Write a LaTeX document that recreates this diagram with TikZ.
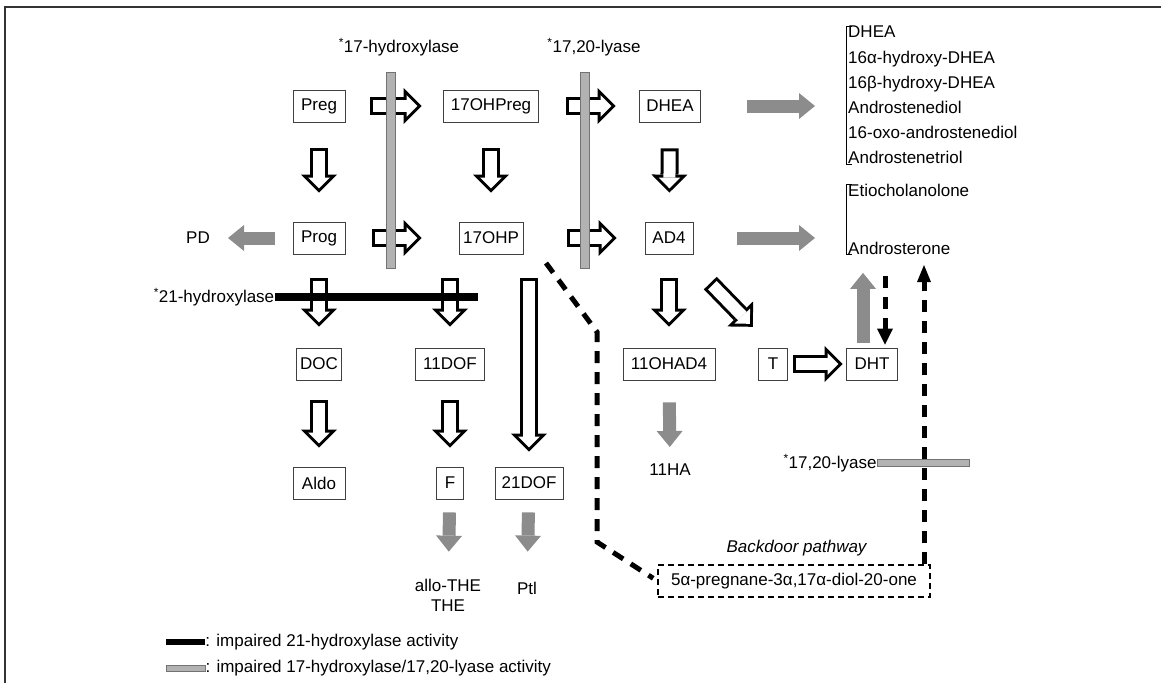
\documentclass[tikz,border=0pt]{standalone}
\usepackage{fontspec}
\setmainfont{Liberation Sans}
\usetikzlibrary{arrows.meta,positioning,calc}

\begin{document}
\begin{tikzpicture}[x=1pt,y=-1pt,
  font=\fontsize{17}{20}\selectfont,
  box/.style={draw=black!75, line width=0.8pt, minimum height=32pt, inner xsep=4pt, inner ysep=0pt},
  lbl/.style={inner sep=0pt},
  vbar/.style={draw=black!55, fill=black!30, line width=0.6pt, minimum width=9pt, inner sep=0pt},
  hbar/.style={draw=black!55, fill=black!30, line width=0.6pt, minimum height=7pt, inner sep=0pt},
  blackbar/.style={fill=black, minimum height=8pt, inner sep=0pt},
  hollowarrow/.style 2 args={line width=18pt, shorten <=#1, shorten >=#2,
    -{Triangle[length=18pt,width=36pt,line width'=0pt]},
    postaction={draw=white, line width=12pt, shorten <=#1+3pt, shorten >=#2+4.2pt,
      -{Triangle[length=10.8pt,width=21.6pt,line width'=0pt]}}},
  greyarrow/.style 2 args={draw=black!45, line width=13pt, shorten <=#1, shorten >=#2,
    -{Triangle[length=16pt,width=26pt,line width'=0pt]}},
  dashline/.style={line width=5pt, dash pattern=on 12pt off 9pt},
  bdbox/.style={draw, line width=1.2pt, dash pattern=on 6pt off 4pt, minimum height=32pt}]
\useasboundingbox (0,0) rectangle (1161,683);
\draw[black!80, line width=2.5pt] (5,683) -- (5,7) -- (1161,7);

\node[box, minimum width=52pt] (preg) at (319,106) {Preg};
\node[box, minimum width=95pt] (ohpreg) at (491,106) {17OHPreg};
\node[box, minimum width=61pt] (dhea) at (670,106) {DHEA};
\node[box, minimum width=52pt] (prog) at (319,238) {Prog};
\node[box, minimum width=64pt] (ohp) at (491,238) {17OHP};
\node[box, minimum width=48pt] (ad4) at (669,238) {AD4};
\node[box, minimum width=43pt] (doc) at (319,364) {DOC};
\node[box, minimum width=69pt] (dof11) at (450,364) {11DOF};
\node[box, minimum width=92pt] (ohad4) at (669,364) {11OHAD4};
\node[box, minimum width=29pt] (t) at (773,364) {T};
\node[box, minimum width=51pt] (dht) at (872,364) {DHT};
\node[box, minimum width=52pt] (aldo) at (319,483) {Aldo};
\node[box, minimum width=27pt] (f) at (450,483) {F};
\node[box, minimum width=68pt] (dof21) at (529,483) {21DOF};

\node[lbl] (pd) at (198,238) {PD};
\node[lbl] (ha11) at (670,470) {11HA};
\node[lbl, align=center] (the) at (448,595) {allo-THE\\THE};
\node[lbl] (ptl) at (527,588) {Ptl};

\node[lbl, anchor=north west, align=left, font=\fontsize{17}{25.2}\selectfont] (list1) at (848,26)
  {DHEA\\16α-hydroxy-DHEA\\16β-hydroxy-DHEA\\Androstenediol\\16-oxo-androstenediol\\Androstenetriol};
\node[lbl, anchor=north west, align=left, font=\fontsize{17}{25.2}\selectfont] (list2) at (848,184)
  {Etiocholanolone\\[32.8pt]Androsterone};
\draw[line width=0.8pt] ([xshift=4pt]list1.north west) -- ([xshift=-2pt]list1.north west)
  -- ([xshift=-2pt]list1.south west) -- ([xshift=4pt]list1.south west);
\draw[line width=0.8pt] ([xshift=4pt]list2.north west) -- ([xshift=-2pt]list2.north west)
  -- ([xshift=-2pt]list2.south west) -- ([xshift=4pt]list2.south west);

\node[bdbox, minimum width=272pt] (bd) at (794,581) {5α-pregnane-3α,17α-diol-20-one};
\node[lbl] (bdlbl) at (797,548) {\textit{Backdoor pathway}};

\node[lbl] (lyase2) at (830,463) {\textsuperscript{*}17,20-lyase};
\node[hbar, minimum width=92pt, right=0pt of lyase2] (lyase2bar) {};

\coordinate (bdstart) at (546,263);
\coordinate (bdbend1) at (597,332);
\coordinate (bdbend2) at (597,542);
\coordinate (bdup) at (924,265);
\draw[dashline, shorten >=5pt] (bdstart) -- (bdbend1) -- (bdbend2) -- (bd.west);
\draw[dashline, -{Triangle[length=17pt,width=14pt,line width'=0pt]}] (bd.north -| bdup) -- (bdup);

\draw[hollowarrow={25pt}{21.5pt}] (preg) -- (ohpreg);
\draw[hollowarrow={27.5pt}{23.5pt}] (ohpreg) -- (dhea);
\draw[hollowarrow={27pt}{37pt}] (prog) -- (ohp);
\draw[hollowarrow={44pt}{28pt}] (ohp) -- (ad4);
\draw[hollowarrow={26pt}{29pt}] (preg) -- (prog);
\draw[hollowarrow={26pt}{29pt}] (ohpreg) -- (ohp);
\draw[hollowarrow={26pt}{29pt}] (dhea) -- (ad4);
\draw[hollowarrow={24pt}{21pt}] (prog) -- (doc);
\draw[hollowarrow={24pt}{21pt}] (ohp.south -| dof11) -- (dof11);
\draw[hollowarrow={24pt}{15pt}] (ohp.south -| dof21) -- (dof21);
\draw[hollowarrow={24pt}{21pt}] (ad4) -- (ohad4);
\draw[hollowarrow={20pt}{19pt}] (doc) -- (aldo);
\draw[hollowarrow={20pt}{19pt}] (dof11) -- (f);
\draw[hollowarrow={40pt}{29pt}] ([xshift=-11pt]ad4.south east) -- (t.north);
\draw[hollowarrow={5.5pt}{3.5pt}] (t) -- (dht);

\draw[greyarrow={18pt}{18pt}] (prog) -- (pd);
\draw[greyarrow={46.5pt}{33pt}] (dhea.east) -- (dhea.east -| list1.west);
\draw[greyarrow={44pt}{33pt}] (ad4.east) -- (ad4.east -| list2.west);
\draw[greyarrow={22pt}{17pt}] (ohad4) -- (ha11);
\draw[greyarrow={13pt}{27pt}] (f) -- (the);
\draw[greyarrow={13pt}{30pt}] (dof21) -- (ptl);
\draw[greyarrow={5pt}{18pt}] ([xshift=-9pt]dht.north) -- ([xshift=-9pt]dht.north |- list2.south);
\draw[dashline, shorten <=21pt, shorten >=3pt, -{Triangle[length=16pt,width=16pt,line width'=0pt]}]
  ([xshift=13pt]dht.north |- list2.south) -- ([xshift=13pt]dht.north);

\node[lbl] (hydlbl) at (399,47) {\textsuperscript{*}17-hydroxylase};
\node[lbl] (lyaselbl) at (594,47) {\textsuperscript{*}17,20-lyase};
\node[vbar, minimum height=196pt] (hydbar) at (391,170) {};
\node[vbar, minimum height=196pt] (lyasebar) at (585,170) {};
\node[lbl] (hyd21) at (214,297) {\textsuperscript{*}21-hydroxylase};
\node[blackbar, minimum width=203pt, right=0pt of hyd21] (hyd21bar) {};

\node[blackbar, minimum width=39pt, minimum height=6pt] (sw21) at (185.5,642) {};
\node[lbl, right=0pt of sw21] (leg21) {: impaired 21-hydroxylase activity};
\node[hbar, minimum width=39pt, minimum height=6pt] (sw17) at (185.5,668) {};
\node[lbl, right=0pt of sw17] (leg17) {: impaired 17-hydroxylase/17,20-lyase activity};
\end{tikzpicture}
\end{document}
